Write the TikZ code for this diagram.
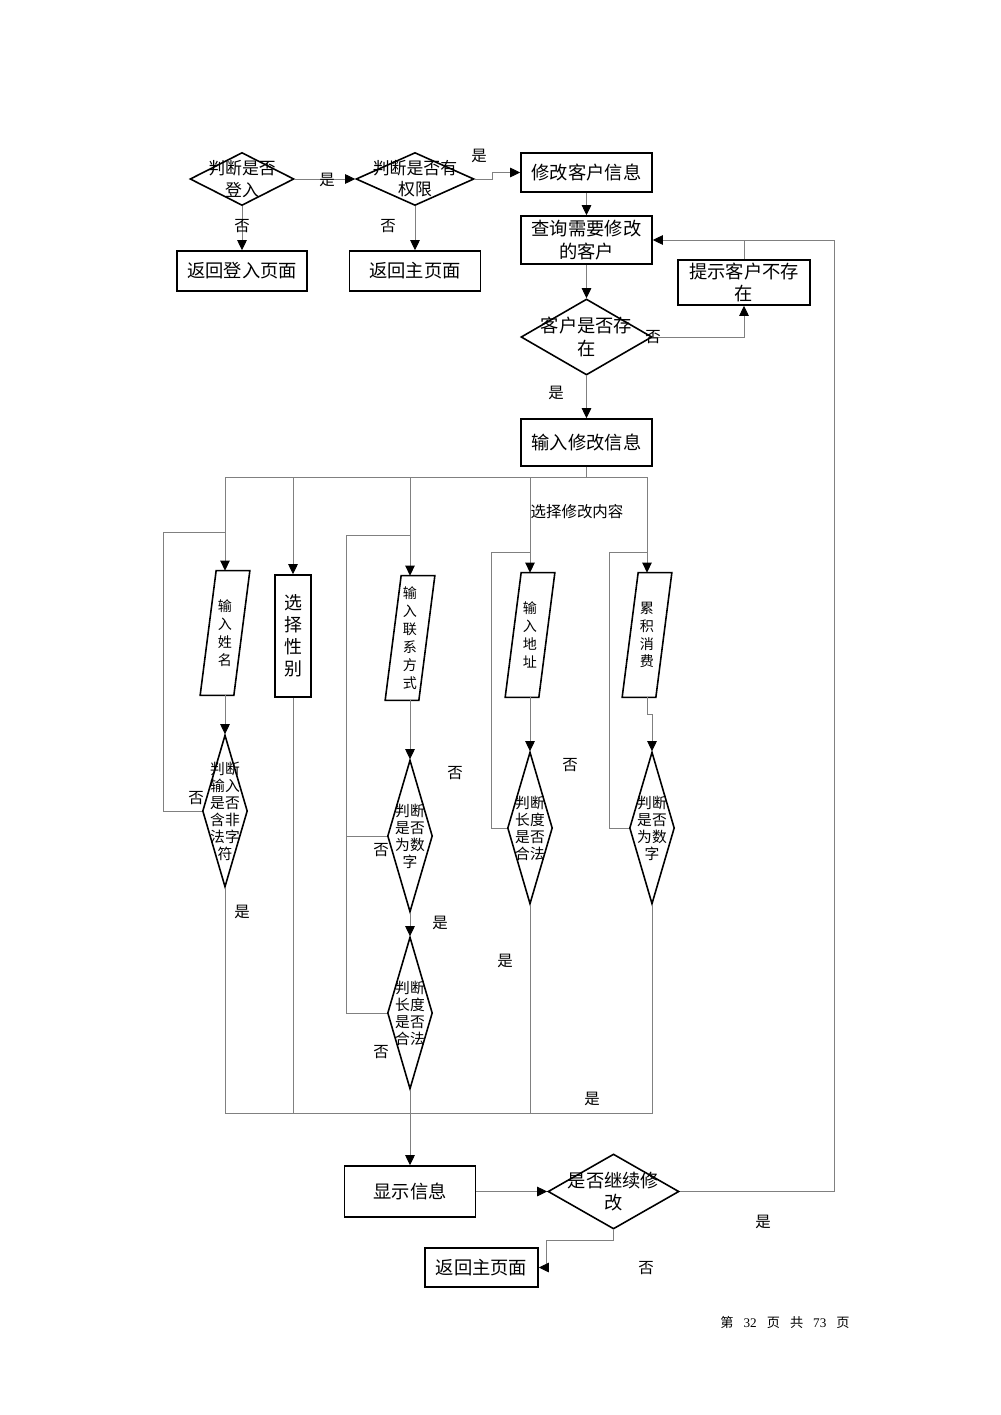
\documentclass[tikz,border=0pt]{standalone}
\usepackage{fontspec}
\setmainfont{Noto Sans CJK SC}
\newfontfamily\numfont{Liberation Serif}
\usetikzlibrary{arrows.meta,shapes.geometric,calc}

\tikzset{
  box/.style={draw, line width=0.9pt, inner sep=0pt, align=center, font=\fontsize{10.4}{13}\selectfont},
  dec/.style={draw, diamond, line width=0.9pt, inner sep=0pt},
  dtxt/.style={align=center, inner sep=0pt, font=\fontsize{9.6}{12}\selectfont},
  stxt/.style={align=center, inner sep=0pt, font=\fontsize{8.4}{9.7}\selectfont},
  pbox/.style={inner sep=0pt, align=center, minimum width=9.8mm, minimum height=24.8mm, font=\fontsize{8}{10.2}\selectfont},
  lbl/.style={inner sep=1pt, font=\fontsize{8.8}{10}\selectfont},
  conn/.style={draw=black!50, line width=0.5pt},
  arr/.style={conn, -{Triangle[length=2mm, width=1.9mm, color=black]}}
}

\begin{document}
\begin{tikzpicture}[x=0.2mm, y=-0.2mm]
\useasboundingbox (0,0) rectangle (1000,1415);
\node[dec, minimum width=20.8mm, minimum height=10.6mm] (login) at (242,179) {};
\node[dtxt] (login-t) at (login) {判断是否\\登入};
\node[dec, minimum width=23.6mm, minimum height=10.6mm] (perm) at (415,179) {};
\node[dtxt] (perm-t) at (perm) {判断是否有\\权限};
\node[box, minimum width=26mm, minimum height=8mm] (backlogin) at (242,271) {返回登入页面};
\node[box, minimum width=26.2mm, minimum height=8mm] (backmain) at (415,271) {返回主页面};
\node[box, minimum width=26.2mm, minimum height=7.8mm] (modify) at (586.5,172.5) {修改客户信息};
\node[box, minimum width=26.2mm, minimum height=9.6mm] (query) at (586.5,240) {查询需要修改\\的客户};
\node[dec, minimum width=26.2mm, minimum height=15.2mm] (exist) at (586.5,337) {};
\node[dtxt, font=\fontsize{10.4}{13}\selectfont] (exist-t) at (exist) {客户是否存\\在};
\node[box, minimum width=26.4mm, minimum height=9mm] (notfound) at (744,282.5) {提示客户不存\\在};
\node[box, minimum width=26.2mm, minimum height=9.4mm] (input) at (586.5,442.5) {输入修改信息};
\foreach \n/\x/\y/\t in {pname/225/633/{输\\入\\姓\\名}, pphone/410/638/{输\\入\\联\\系\\方\\式}, paddr/530/635/{输\\入\\地\\址}, pcost/647/635/{累\\积\\消\\费}} {
  \node[pbox] (\n) at (\x,\y) {\t};
  \draw[line width=0.9pt] ([xshift=3.2mm]\n.north west) -- (\n.north east) -- ([xshift=-3.2mm]\n.south east) -- (\n.south west) -- cycle;
}
\node[box, minimum width=7.2mm, minimum height=24.4mm, font=\fontsize{10.2}{12.5}\selectfont] (psex) at (293,636) {选\\择\\性\\别};
\foreach \n/\x/\y/\t in {chkname/225/811/{判断\\输入\\是否\\含非\\法字\\符}, numphone/410/836/{判断\\是否\\为数\\字}, lenphone/410/1013/{判断\\长度\\是否\\合法}, lenaddr/530/828/{判断\\长度\\是否\\合法}, numcost/652/828/{判断\\是否\\为数\\字}} {
  \node[dec, minimum width=9mm, minimum height=30.4mm] (\n) at (\x,\y) {};
  \node[stxt] (\n-t) at (\n) {\t};
}
\node[box, minimum width=26.2mm, minimum height=10.2mm] (show) at (410,1191.5) {显示信息};
\node[dec, minimum width=26.2mm, minimum height=15mm] (again) at (613.5,1191.5) {};
\node[dtxt, font=\fontsize{10.4}{13}\selectfont] (again-t) at (again) {是否继续修\\改};
\node[box, minimum width=22.6mm, minimum height=7.8mm] (back) at (481.5,1267.5) {返回主页面};

\draw[arr] (login.east) -- (perm.west);
\draw[arr] (login.south) -- (backlogin.north);
\draw[arr] (perm.south) -- (backmain.north);
\draw[arr] (perm.east) -- ++(18,0) |- (modify.west);
\draw[arr] (modify.south) -- (query.north);
\draw[arr] (query.south) -- (exist.north);
\draw[arr] (exist.east) -| (notfound.south);
\draw[conn] (notfound.north) -- (notfound.north |- query.east);
\draw[arr] (exist.south) -- (input.north);
\foreach \n in {pname,psex,pphone,paddr,pcost} \draw[arr] (input.south) -- ++(0,11) -| (\n.north);
\draw[arr] (pname.south) -- (chkname.north);
\draw[arr] (pphone.south) -- (numphone.north);
\draw[arr] (numphone.south) -- (lenphone.north);
\draw[arr] (paddr.south) -- (lenaddr.north);
\draw[arr] (pcost.south) -- ++(0,17) -| (numcost.north);
\draw[conn] (chkname.west) -- ++(-38,0) |- ($(pname.north)+(0,-38)$);
\draw[conn] (lenphone.west) -- ++(-40,0) |- ($(pphone.north)+(0,-40)$);
\draw[conn] (numphone.west) -- ++(-40,0);
\draw[conn] (lenaddr.west) -- ++(-15,0) |- ($(paddr.north)+(0,-20)$);
\draw[conn] (numcost.west) -- ++(-19,0) |- ($(pcost.north)+(0,-20)$);
\coordinate (join) at (410,1113);
\draw[arr] (lenphone.south) -- (show.north);
\foreach \n in {chkname,lenaddr,numcost} \draw[conn] (\n.south) |- (join);
\draw[conn] (psex.south) -- (psex.south |- join);
\draw[arr] (show.east) -- (again.west);
\draw[arr] (again.east) -- ++(155,0) |- (query.east);
\draw[arr] (again.south) -- ++(0,11) -| ($(back.east)+(8,0)$) -- (back.east);

\node[lbl] (y1) at (327,180) {是};
\node[lbl] (y2) at (479,156) {是};
\node[lbl] (n1) at (242,226) {否};
\node[lbl] (n2) at (388,226) {否};
\node[lbl] (n3) at (653,337) {否};
\node[lbl] (y3) at (556,393) {是};
\node[lbl] (sel) at (577,512) {选择修改内容};
\node[lbl] (n4) at (196,798) {否};
\node[lbl] (y4) at (242,912) {是};
\node[lbl] (n5) at (455,773) {否};
\node[lbl] (n6) at (381,850) {否};
\node[lbl] (y5) at (440,923) {是};
\node[lbl] (n7) at (381,1052) {否};
\node[lbl] (n8) at (570,765) {否};
\node[lbl] (y6) at (505,961) {是};
\node[lbl] (y7) at (592,1099) {是};
\node[lbl] (y8) at (763,1222) {是};
\node[lbl] (n9) at (646,1268) {否};
\node[inner sep=0pt, font=\fontsize{7.5}{9}\selectfont] (page) at (785,1322) {第\hspace{2mm}{\numfont 32}\hspace{2mm}页\hspace{2mm}共\hspace{2mm}{\numfont 73}\hspace{2mm}页};
\end{tikzpicture}
\end{document}
